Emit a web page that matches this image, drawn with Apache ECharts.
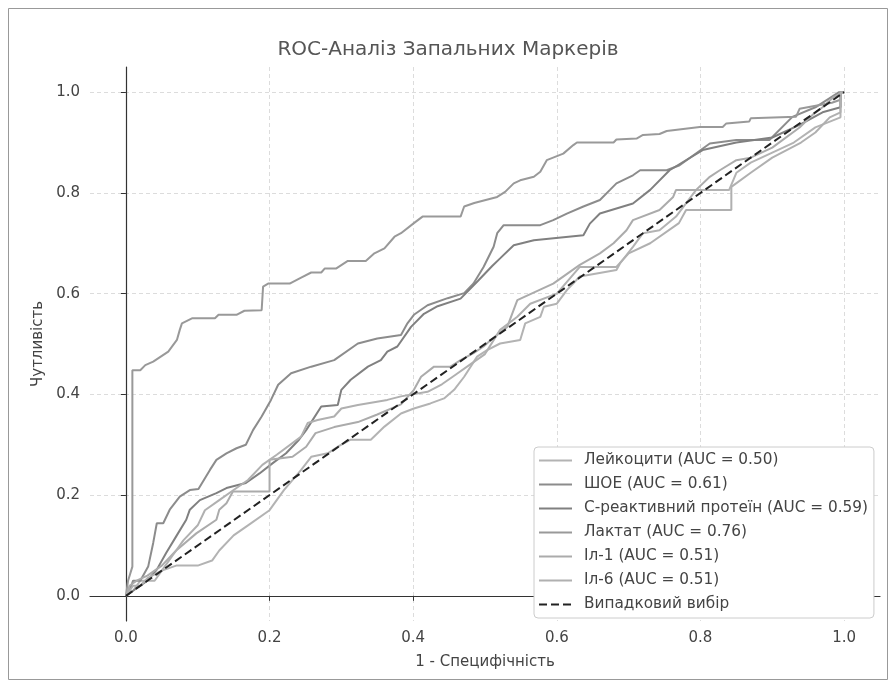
<!DOCTYPE html>
<html>
<head>
<meta charset="utf-8">
<script src="https://cdn.jsdelivr.net/npm/echarts@6/dist/echarts.min.js"></script>
<style>
html,body{margin:0;padding:0;background:#fff;}
#chart{width:896px;height:688px;}
</style>
</head>
<body>
<div id="chart"></div>
<script>
// ---- data (FPR, TPR) ----
const titleText = 'ROC-Аналіз Запальних Маркерів';
const xAxisName = '1 - Специфічність';
const yAxisName = 'Чутливість';
const tickValues = [0, 0.2, 0.4, 0.6, 0.8, 1.0];

const seriesNames = [
  'Лейкоцити (AUC = 0.50)',
  'ШОЕ (AUC = 0.61)',
  'С-реактивний протеїн (AUC = 0.59)',
  'Лактат (AUC = 0.76)',
  'Іл-1 (AUC = 0.51)',
  'Іл-6 (AUC = 0.51)'
];
const randomName = 'Випадковий вибір';

const leukocytes = [[0,0],[0.01,0.01],[0.02,0.03],[0.04,0.03],[0.05,0.05],[0.07,0.06],[0.10,0.06],[0.12,0.07],[0.13,0.09],[0.15,0.12],[0.17,0.14],[0.20,0.17],[0.22,0.21],[0.244,0.25],[0.258,0.276],[0.281,0.283],[0.295,0.296],[0.313,0.31],[0.341,0.31],[0.36,0.336],[0.383,0.362],[0.401,0.372],[0.424,0.382],[0.443,0.392],[0.457,0.409],[0.471,0.435],[0.489,0.475],[0.503,0.488],[0.521,0.501],[0.549,0.508],[0.556,0.541],[0.577,0.554],[0.582,0.574],[0.600,0.580],[0.614,0.607],[0.632,0.634],[0.683,0.647],[0.688,0.660],[0.706,0.693],[0.720,0.720],[0.743,0.726],[0.766,0.753],[0.794,0.806],[0.84,0.806],[0.85,0.84],[0.87,0.86],[0.90,0.88],[0.93,0.90],[0.96,0.93],[0.995,0.95],[0.995,1.0],[1,1]];

const esr = [[0,0],[0.005,0.01],[0.01,0.03],[0.02,0.03],[0.031,0.058],[0.038,0.105],[0.043,0.144],[0.052,0.144],[0.061,0.171],[0.075,0.197],[0.089,0.210],[0.101,0.212],[0.117,0.250],[0.126,0.270],[0.140,0.283],[0.154,0.293],[0.167,0.300],[0.177,0.329],[0.189,0.356],[0.202,0.389],[0.212,0.419],[0.230,0.442],[0.258,0.455],[0.290,0.468],[0.323,0.501],[0.350,0.511],[0.383,0.518],[0.392,0.541],[0.401,0.558],[0.420,0.577],[0.448,0.591],[0.471,0.601],[0.484,0.620],[0.498,0.653],[0.512,0.693],[0.517,0.720],[0.526,0.736],[0.577,0.736],[0.595,0.746],[0.614,0.759],[0.637,0.773],[0.660,0.786],[0.674,0.806],[0.683,0.819],[0.706,0.835],[0.716,0.845],[0.753,0.845],[0.771,0.855],[0.813,0.898],[0.850,0.905],[0.896,0.905],[0.928,0.951],[0.960,0.970],[0.993,1.0],[1,1]];

const crp = [[0,0],[0.01,0.01],[0.02,0.02],[0.03,0.03],[0.043,0.052],[0.056,0.085],[0.070,0.118],[0.084,0.151],[0.089,0.171],[0.103,0.190],[0.126,0.204],[0.140,0.214],[0.167,0.224],[0.186,0.243],[0.204,0.263],[0.223,0.283],[0.241,0.310],[0.251,0.329],[0.272,0.376],[0.295,0.379],[0.300,0.409],[0.313,0.429],[0.337,0.455],[0.355,0.468],[0.364,0.485],[0.378,0.495],[0.397,0.534],[0.415,0.560],[0.434,0.575],[0.466,0.590],[0.490,0.625],[0.510,0.655],[0.521,0.670],[0.540,0.696],[0.568,0.706],[0.637,0.716],[0.646,0.739],[0.660,0.759],[0.706,0.779],[0.730,0.806],[0.757,0.845],[0.803,0.885],[0.850,0.900],[0.900,0.910],[0.938,0.935],[0.970,0.960],[0.995,0.970],[0.995,1.0],[1,1]];

const lactate = [[0,0],[0.003,0.03],[0.009,0.058],[0.009,0.448],[0.020,0.448],[0.027,0.458],[0.038,0.465],[0.059,0.485],[0.071,0.508],[0.075,0.528],[0.078,0.541],[0.092,0.551],[0.124,0.551],[0.129,0.558],[0.154,0.558],[0.165,0.566],[0.189,0.567],[0.191,0.614],[0.198,0.620],[0.228,0.620],[0.244,0.632],[0.258,0.642],[0.272,0.642],[0.277,0.650],[0.293,0.650],[0.309,0.665],[0.334,0.665],[0.346,0.680],[0.360,0.690],[0.374,0.713],[0.383,0.720],[0.401,0.740],[0.413,0.753],[0.466,0.753],[0.471,0.773],[0.485,0.780],[0.517,0.792],[0.528,0.802],[0.540,0.819],[0.549,0.825],[0.568,0.832],[0.577,0.842],[0.586,0.865],[0.609,0.878],[0.623,0.895],[0.628,0.900],[0.679,0.900],[0.683,0.906],[0.711,0.908],[0.720,0.915],[0.743,0.917],[0.753,0.923],[0.799,0.931],[0.831,0.931],[0.836,0.938],[0.868,0.942],[0.870,0.948],[0.933,0.951],[0.938,0.967],[0.983,0.979],[0.995,0.985],[0.995,1.0],[1,1]];

const il1 = [[0,0],[0.005,0.02],[0.015,0.03],[0.03,0.04],[0.05,0.06],[0.07,0.09],[0.098,0.124],[0.126,0.151],[0.130,0.171],[0.140,0.184],[0.149,0.207],[0.200,0.207],[0.200,0.270],[0.232,0.276],[0.251,0.296],[0.264,0.323],[0.290,0.335],[0.323,0.345],[0.350,0.360],[0.383,0.380],[0.401,0.409],[0.411,0.435],[0.429,0.455],[0.452,0.455],[0.466,0.468],[0.484,0.482],[0.498,0.495],[0.508,0.508],[0.531,0.534],[0.545,0.587],[0.595,0.620],[0.632,0.657],[0.660,0.680],[0.679,0.700],[0.697,0.726],[0.706,0.746],[0.743,0.766],[0.762,0.792],[0.766,0.806],[0.794,0.806],[0.813,0.832],[0.827,0.845],[0.850,0.865],[0.870,0.870],[0.900,0.890],[0.938,0.930],[0.956,0.955],[0.970,0.970],[0.985,0.990],[1,1]];

const il6 = [[0,0],[0.005,0.01],[0.01,0.02],[0.02,0.02],[0.03,0.035],[0.05,0.05],[0.065,0.08],[0.08,0.11],[0.10,0.14],[0.11,0.17],[0.13,0.19],[0.15,0.21],[0.17,0.23],[0.19,0.26],[0.21,0.28],[0.244,0.316],[0.253,0.343],[0.267,0.349],[0.290,0.356],[0.300,0.372],[0.323,0.379],[0.364,0.389],[0.383,0.396],[0.420,0.405],[0.440,0.420],[0.460,0.440],[0.480,0.460],[0.500,0.480],[0.521,0.528],[0.545,0.554],[0.563,0.580],[0.600,0.600],[0.632,0.653],[0.683,0.653],[0.700,0.680],[0.730,0.700],[0.770,0.740],[0.780,0.766],[0.843,0.766],[0.843,0.812],[0.870,0.840],[0.900,0.870],[0.920,0.885],[0.940,0.900],[0.960,0.920],[0.980,0.950],[0.995,0.960],[0.995,1.0],[1,1]];

const randomLine = [[0,0],[1,1]];

const seriesData = [leukocytes, esr, crp, lactate, il1, il6];
const seriesColors = ['#b3b3b3', '#8c8c8c', '#808080', '#999999', '#ababab', '#b0b0b0'];

const chart = echarts.init(document.getElementById('chart'), null, {renderer: 'canvas'});
const FONT = 'DejaVu Sans';

const series = seriesData.map((d, i) => ({
  name: seriesNames[i],
  type: 'line',
  data: d,
  symbol: 'none',
  smooth: false,
  lineStyle: {color: seriesColors[i], width: 2},
  itemStyle: {color: seriesColors[i]},
  z: 2
}));
series.push({
  name: randomName,
  type: 'line',
  data: randomLine,
  symbol: 'none',
  lineStyle: {color: '#222', width: 2, type: [8, 4]},
  itemStyle: {color: '#222'},
  z: 3
});

const option = {
  backgroundColor: '#fff',
  animation: false,
  title: {
    text: titleText,
    left: 'center',
    top: 35,
    textStyle: {fontFamily: FONT, fontSize: 20, fontWeight: 'normal', color: '#555'}
  },
  graphic: [{
    type: 'rect',
    shape: {x: 8.5, y: 8.5, width: 879, height: 671},
    style: {fill: 'none', stroke: '#999', lineWidth: 1},
    silent: true
  }],
  legend: {
    orient: 'vertical',
    left: 534,
    top: 447,
    data: seriesNames.concat([randomName]),
    itemWidth: 33,
    itemHeight: 14,
    itemGap: 9,
    padding: [6, 6, 6, 4],
    backgroundColor: '#fff',
    borderColor: '#ccc',
    borderWidth: 1,
    borderRadius: 4,
    itemStyle: {opacity: 0},
    textStyle: {fontFamily: FONT, fontSize: 15.3, color: '#444', padding: [0, 0, 0, 7]}
  },
  grid: {left: 90, right: 16, top: 67, bottom: 67, containLabel: false},
  xAxis: {
    type: 'value',
    min: -0.05,
    max: 1.05,
    name: xAxisName,
    nameLocation: 'middle',
    nameGap: 34,
    nameTextStyle: {fontFamily: FONT, fontSize: 15, color: '#444'},
    axisLine: {lineStyle: {color: '#333', width: 1.2}},
    axisTick: {show: true, length: 5, lineStyle: {color: '#333'}, customValues: tickValues},
    axisLabel: {fontFamily: FONT, fontSize: 15, color: '#444', margin: 10, customValues: tickValues, formatter: v => v.toFixed(1)},
    splitLine: {show: true, lineStyle: {color: '#dcdcdc', type: [4, 3], width: 1}}
  },
  yAxis: {
    type: 'value',
    min: -0.05,
    max: 1.05,
    name: yAxisName,
    nameLocation: 'middle',
    nameGap: 43,
    nameTextStyle: {fontFamily: FONT, fontSize: 15, color: '#444'},
    axisLine: {show: true, lineStyle: {color: '#333', width: 1.2}},
    axisTick: {show: true, length: 5, lineStyle: {color: '#333'}, customValues: tickValues},
    axisLabel: {fontFamily: FONT, fontSize: 15, color: '#444', margin: 10, customValues: tickValues, formatter: v => v.toFixed(1)},
    splitLine: {show: true, lineStyle: {color: '#dcdcdc', type: [4, 3], width: 1}}
  },
  series: series
};
chart.setOption(option);
</script>
</body>
</html>
